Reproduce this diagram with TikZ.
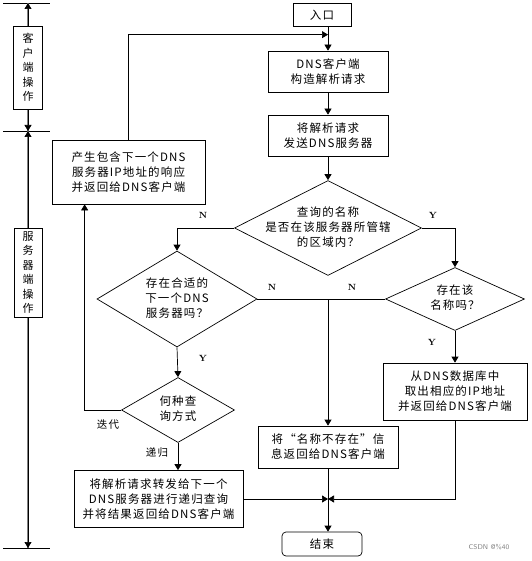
\documentclass[tikz,border=0pt]{standalone}
\usepackage{fontspec}
\newfontfamily\cjk[LetterSpace=10]{Noto Sans CJK SC}
\usetikzlibrary{arrows.meta,shapes.geometric,calc}
\newcommand{\dtx}[1]{\makebox[0pt]{\begin{tabular}{@{}c@{}}#1\end{tabular}}}
\begin{document}
\begin{tikzpicture}[x=1pt,y=-1pt,
  base/.style={font=\cjk\fontsize{11.5}{15}\selectfont},
  box/.style={base, draw, line width=0.7pt, align=center, inner sep=0pt, fill=white},
  dia/.style={base, draw, line width=0.7pt, diamond, inner sep=0pt},
  arr/.style={line width=0.7pt, -{Triangle[length=6pt,width=7pt]}},
  ln/.style={line width=0.7pt},
  lab/.style={font=\rmfamily\bfseries\fontsize{9}{9}\selectfont, inner sep=0pt},
  clab/.style={font=\cjk\fontsize{10.5}{12}\selectfont, inner sep=0pt},
  vbox/.style={draw, line width=0.7pt, align=center, inner sep=0pt, fill=white,
    font=\cjk\fontsize{11}{14.5}\selectfont},
]
\useasboundingbox (0,0) rectangle (531,561);

% left column
\coordinate (L0) at (28,3);
\coordinate (L1) at (28,131);
\coordinate (L2) at (28,548);
\coordinate (H0a) at (3,3);   \coordinate (H0b) at (50,3);
\coordinate (H1a) at (3,131); \coordinate (H1b) at (50,131);
\coordinate (H2a) at (3,548); \coordinate (H2b) at (50,548);
\draw[ln] (H0a) -- (H0b);
\draw[ln] (H1a) -- (H1b);
\draw[ln] (H2a) -- (H2b);
\draw[gray, line width=1.6pt] (L0) -- (L2);
\node[vbox, minimum width=29, minimum height=83] (cli) at (28,67.5) {客\\户\\端\\操\\作};
\node[vbox, minimum width=28, minimum height=89] (srv) at (28,272.5) {服\\务\\器\\端\\操\\作};
\draw[arr] (cli.north) -- (L0);
\draw[arr] (cli.south) -- (L1);
\draw[arr] (srv.north) -- (L1);
\draw[arr] (srv.south) -- (L2);

% main flow
\node[box, minimum width=58, minimum height=23] (start) at (322,15) {入口};
\node[box, minimum width=120, minimum height=41] (dns1) at (328,71.5) {DNS客户端\\构造解析请求};
\node[box, minimum width=120, minimum height=41] (dns2) at (328,135.5) {将解析请求\\发送DNS服务器};
\node[dia, minimum width=187, minimum height=95] (d1) at (328,228) {\dtx{查询的名称\\是否在该服务器所管辖\\的区域内？}};
\node[box, minimum width=153, minimum height=64] (gen) at (128.5,172) {产生包含下一个DNS\\服务器IP地址的响应\\并返回给DNS客户端};
\node[dia, minimum width=160, minimum height=96] (d2) at (177,299) {\dtx{存在合适的\\下一个DNS\\服务器吗？}};
\node[dia, minimum width=139, minimum height=63] (d3) at (455,299) {\dtx{存在该\\名称吗？}};
\node[dia, minimum width=113, minimum height=65] (d4) at (178,410) {\dtx{何种查\\询方式}};
\node[box, minimum width=169, minimum height=57] (fwd) at (158.5,499) {将解析请求转发给下一个\\DNS服务器进行递归查询\\并将结果返回给DNS客户端};
\node[box, minimum width=140, minimum height=42] (nx) at (328,447) {将“名称不存在”信\\息返回给DNS客户端};
\node[box, minimum width=144, minimum height=57] (db) at (455,391.5) {从DNS数据库中\\取出相应的IP地址\\并返回给DNS客户端};
\node[box, rounded corners=4pt, minimum width=80, minimum height=24] (end) at (322,544) {结束};

\draw[arr] (dns1.north |- start.south) -- (dns1.north);
\draw[arr] (gen.north) |- ($(dns1.north)+(0,-16)$);
\draw[arr] (dns1.south) -- (dns2.north);
\draw[arr] (dns2.south) -- (d1.north);
\draw[arr] (d1.west) -| (d2.north);
\draw[arr] (d1.east) -| (d3.north);
\draw[ln] (d2.east) -- (d3.west);
\draw[arr] (d2.east -| nx.north) -- (nx.north);
\draw[arr] (d2.south) -- (d4.north);
\draw[arr] (d3.south) -- (db.north);
\draw[arr] (d4.west) -| ($(gen.south west)+(33,0)$);
\draw[arr] (d4.south) -- (d4.south |- fwd.north);
\coordinate (m) at (nx.south |- fwd.east);
\draw[arr] (fwd.east) -- (m);
\draw[arr] (db.south) |- (m);
\draw[arr] (nx.south) -- (nx.south |- end.north);

% labels
\node[lab] (n1) at (203,215) {N};
\node[lab] (y1) at (433,215) {Y};
\node[lab] (n2) at (272,287) {N};
\node[lab] (n3) at (352,287) {N};
\node[lab] (y2) at (203,358) {Y};
\node[lab] (y3) at (432,342) {Y};
\node[clab] (it) at (108,425) {迭代};
\node[clab] (rc) at (157,453) {递归};
\node[font=\sffamily\fontsize{7}{7}\selectfont, text=gray, inner sep=0pt] (wm) at (489,547) {CSDN @\%40};
\end{tikzpicture}
\end{document}
